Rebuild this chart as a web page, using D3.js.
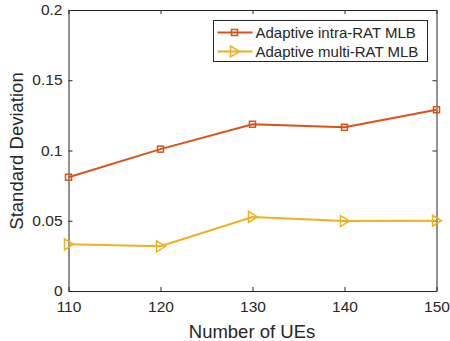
<!DOCTYPE html>
<head>
<meta charset="utf-8">
<script src="https://d3js.org/d3.v7.min.js"></script>
<style>
    body { margin: 0; background: #fff; }
    text { font-family: "Liberation Sans", Arial, sans-serif; fill: #262626; }
    .axis path, .axis line { stroke: #262626; }
</style>
</head>
<body>
<svg width="450" height="341"></svg>
<script>
    // data
    var ues = [110, 120, 130, 140, 150];
    var intraRat = [0.081, 0.101, 0.1187, 0.1165, 0.129];
    var multiRat = [0.0332, 0.0318, 0.0527, 0.0498, 0.0500];
    var seriesNames = ["Adaptive intra-RAT MLB", "Adaptive multi-RAT MLB"];
    var yTicks = [0, 0.05, 0.1, 0.15, 0.2];

    var svg = d3.select("svg"),
        margin = {left: 68.5, right: 13.5, top: 10, bottom: 50},
        width = 450 - margin.left - margin.right,
        height = 341 - margin.top - margin.bottom;

    var g = svg.append("g").attr("transform", "translate(" + margin.left + "," + margin.top + ")");

    var x = d3.scaleLinear().domain([110, 150]).range([0, width]);
    var y = d3.scaleLinear().domain([0, 0.2]).range([height, 0]);

    // axes with inward ticks on all sides
    g.append("g").attr("class", "axis")
        .attr("transform", "translate(0," + height + ")")
        .call(d3.axisBottom(x).tickValues(ues).tickSize(-4).tickPadding(10).tickSizeOuter(0))
        .selectAll("text").style("font-size", "15.5px");
    g.append("g").attr("class", "axis")
        .call(d3.axisLeft(y).tickValues(yTicks).tickSize(-4).tickPadding(6).tickSizeOuter(0)
            .tickFormat(function (d) { return d === 0 ? "0" : String(+d.toFixed(2)); }))
        .selectAll("text").style("font-size", "15.5px").attr("dy", "0.3em");
    g.append("g").attr("class", "axis")
        .call(d3.axisTop(x).tickValues(ues).tickSize(-4).tickFormat("").tickSizeOuter(0));
    g.append("g").attr("class", "axis")
        .attr("transform", "translate(" + width + ",0)")
        .call(d3.axisRight(y).tickValues(yTicks).tickSize(-4).tickFormat("").tickSizeOuter(0));
    g.selectAll(".axis path").attr("stroke-width", 1);

    // axis labels
    svg.append("text")
        .attr("x", 252).attr("y", 338)
        .attr("text-anchor", "middle").style("font-size", "18.5px")
        .text("Number of UEs");
    svg.append("text")
        .attr("transform", "translate(23,151) rotate(-90)")
        .attr("text-anchor", "middle").style("font-size", "18.5px")
        .text("Standard Deviation");

    var colors = ["#D95319", "#EDB120"];
    var line = d3.line().x(function (d, i) { return x(ues[i]); }).y(function (d) { return y(d); });

    function square(sel, c) {
        sel.append("rect").attr("x", -3).attr("y", -3).attr("width", 6).attr("height", 6)
            .attr("fill", "none").attr("stroke", c).attr("stroke-width", 1.5);
    }
    function triangle(sel, c) {
        sel.append("path").attr("d", "M-4,-5.5L5,0L-4,5.5Z")
            .attr("fill", "none").attr("stroke", c).attr("stroke-width", 1.5);
    }
    var markers = [square, triangle];

    [intraRat, multiRat].forEach(function (vals, k) {
        g.append("path").datum(vals)
            .attr("fill", "none").attr("stroke", colors[k]).attr("stroke-width", 2)
            .attr("d", line);
        g.selectAll(".m" + k).data(vals).enter().append("g")
            .attr("class", "m" + k)
            .attr("transform", function (d, i) { return "translate(" + x(ues[i]) + "," + y(d) + ")"; })
            .each(function () { markers[k](d3.select(this), colors[k]); });
    });

    // legend
    var lg = svg.append("g").attr("transform", "translate(213.5,20.5)");
    lg.append("rect").attr("width", 214).attr("height", 41)
        .attr("fill", "#fff").attr("stroke", "#262626").attr("stroke-width", 1);
    seriesNames.forEach(function (name, k) {
        var row = lg.append("g").attr("transform", "translate(0," + (12 + k * 19) + ")");
        row.append("line").attr("x1", 4).attr("x2", 39).attr("y1", 0).attr("y2", 0)
            .attr("stroke", colors[k]).attr("stroke-width", 2);
        var m = row.append("g").attr("transform", "translate(21,0)");
        markers[k](m, colors[k]);
        row.append("text").attr("x", 42).attr("y", 5.5).style("font-size", "15px").text(name);
    });
</script>
</body>
